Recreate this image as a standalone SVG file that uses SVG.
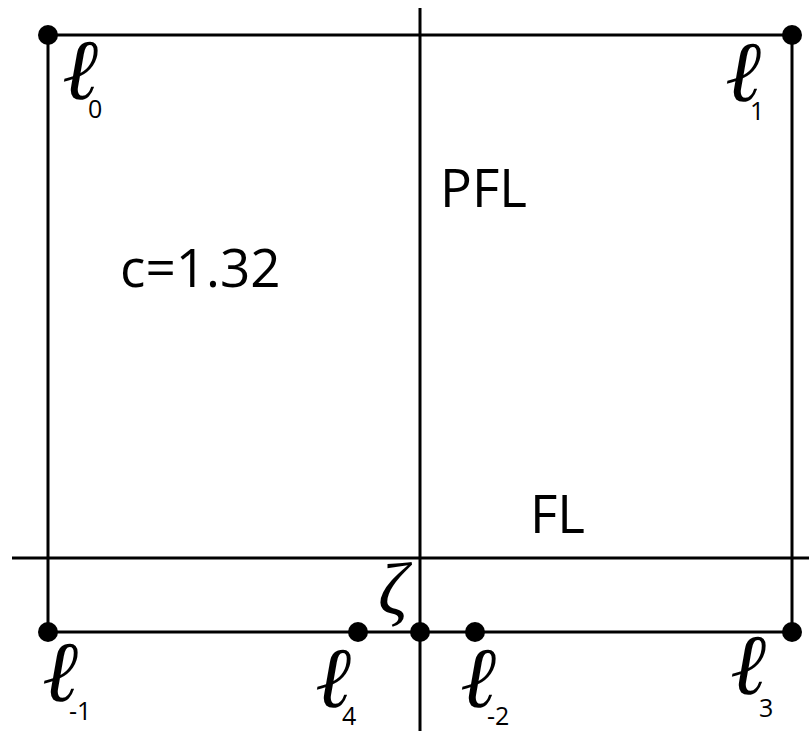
<svg xmlns="http://www.w3.org/2000/svg" width="809" height="731" viewBox="0 0 809 731">
<style>
.ln{stroke:#000;stroke-width:3;fill:none}
.pt{fill:#000}
.t{font-family:"Open Sans","Noto Sans",sans-serif;font-size:53px;fill:#000}
.ell{font-family:"Liberation Serif",serif;font-style:italic;font-size:86px;fill:#000}
.sub{font-family:"Open Sans","Noto Sans",sans-serif;font-size:25px;fill:#000}
.z{font-family:"Liberation Serif",serif;font-style:italic;font-size:74px;fill:#000}
</style>
<rect width="809" height="731" fill="#fff"/>
<g id="connectors">
<line class="ln" x1="48" y1="35" x2="792" y2="35"/>
<line class="ln" x1="48" y1="35" x2="48" y2="632"/>
<line class="ln" x1="792" y1="35" x2="792" y2="632"/>
<line class="ln" x1="48" y1="632" x2="792" y2="632"/>
<line class="ln" x1="12" y1="558" x2="809" y2="558"/>
<line class="ln" x1="420" y1="8" x2="420" y2="731"/>
</g>
<g id="l0"><circle class="pt" cx="48" cy="35" r="10"/><text class="ell" x="62" y="99">ℓ</text><text class="sub" x="88" y="118">0</text></g>
<g id="l1"><circle class="pt" cx="792" cy="35" r="10"/><text class="ell" x="725" y="101">ℓ</text><text class="sub" x="750" y="120">1</text></g>
<g id="lm1"><circle class="pt" cx="48" cy="632" r="10"/><text class="ell" x="42" y="701">ℓ</text><text class="sub" x="69" y="720">-1</text></g>
<g id="l4"><circle class="pt" cx="358" cy="632" r="10"/><text class="ell" x="315" y="707">ℓ</text><text class="sub" x="342" y="725">4</text></g>
<g id="zeta"><circle class="pt" cx="420" cy="632" r="10"/><text class="z" x="378" y="614">ζ</text></g>
<g id="lm2"><circle class="pt" cx="475" cy="632" r="10"/><text class="ell" x="460" y="707">ℓ</text><text class="sub" x="487" y="725">-2</text></g>
<g id="l3"><circle class="pt" cx="792" cy="632" r="10"/><text class="ell" x="730" y="694">ℓ</text><text class="sub" x="759" y="717">3</text></g>
<g id="labels">
<text class="t" x="440" y="207">PFL</text>
<text class="t" x="120" y="287">c=1.32</text>
<text class="t" x="530" y="533">FL</text>
</g>
</svg>
